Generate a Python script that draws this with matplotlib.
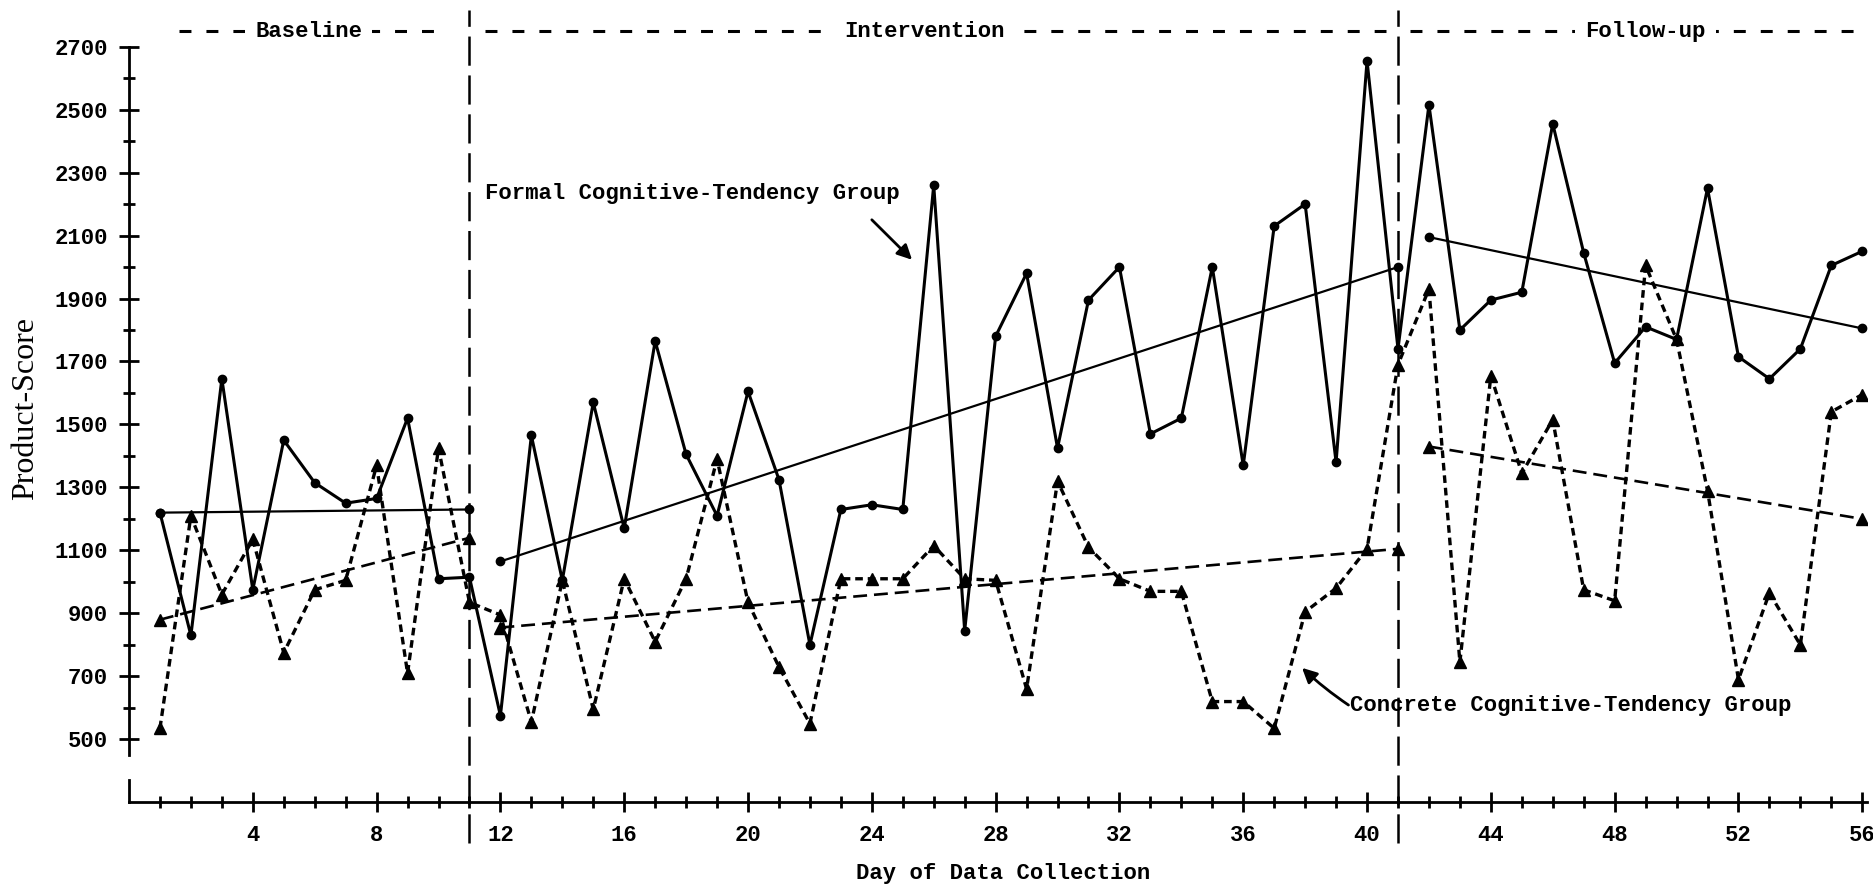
import numpy as np
import matplotlib.pyplot as plt

plt.rcParams['lines.scale_dashes'] = False
plt.rcParams['font.family'] = ['Liberation Mono', 'DejaVu Sans Mono']
plt.rcParams['font.weight'] = 'bold'
plt.rcParams['axes.labelweight'] = 'bold'
plt.rcParams['font.size'] = 16

# day of data collection
days = np.arange(1, 57)

# Product-Score, formal cognitive-tendency group (solid line, dots)
formal = [1220, 830, 1645, 975, 1450, 1315, 1250, 1265, 1520, 1010, 1015,
          575, 1465, 1005, 1570, 1170, 1765, 1405, 1210, 1605, 1325, 800,
          1230, 1245, 1230, 2260, 845, 1780, 1980, 1425, 1895, 2000, 1470,
          1520, 2000, 1370, 2130, 2200, 1380, 2655, 1740,
          2515, 1800, 1895, 1920, 2455, 2045, 1695, 1810, 1770, 2250, 1715,
          1645, 1740, 2005, 2050]

# Product-Score, concrete cognitive-tendency group (dashed line, triangles)
concrete = [535, 1210, 960, 1135, 775, 975, 1005, 1370, 710, 1425, 935,
            895, 555, 1005, 595, 1010, 810, 1010, 1390, 935, 730, 550,
            1010, 1010, 1010, 1115, 1010, 1005, 660, 1320, 1110, 1010, 970,
            970, 620, 620, 535, 905, 980, 1105, 1690,
            1930, 745, 1655, 1345, 1515, 975, 940, 2005, 1770, 1290, 690,
            965, 800, 1540, 1595]

# phases
phase_names = ['Baseline', 'Intervention', 'Follow-up']
phase_breaks = [11, 41]
phase_label_x = [5.8, 25.7, 49.0]
phase_span_start = [1.6, 11.5, 41.4]
phase_span_end = [10.1, 40.6, 56.1]

# trend lines per phase (first day, last day) and (start, end) values
trend_days = [(1, 11), (12, 41), (42, 56)]
formal_trend = [(1220, 1230), (1065, 2000), (2095, 1805)]
concrete_trend = [(880, 1140), (855, 1105), (1430, 1200)]

ymin, ymax = 302, 2848
fig = plt.figure(figsize=(18.73, 8.94), dpi=100)
ax = fig.add_axes([129 / 1873, 1 - 801.7 / 894, 1737.9 / 1873, 801.7 / 894])
ax.set_xlim(0, 56.15)
ax.set_ylim(ymin, ymax)

# data series
ax.plot(days, formal, color='black', lw=2.2, marker='o', ms=6)
ax.plot(days, concrete, color='black', lw=2.4, ls=(0, (5.5, 3.5)),
        marker='^', ms=8.5)

# trend lines
for (d0, d1), (f0, f1), (c0, c1) in zip(trend_days, formal_trend, concrete_trend):
    ax.plot([d0, d1], [f0, f1], color='black', lw=1.6, marker='o', ms=6)
    ax.plot([d0, d1], [c0, c1], color='black', lw=1.9, ls=(0, (10, 5)),
            marker='^', ms=8.5)

# phase separators
for b in phase_breaks:
    ax.axvline(b, ymin=(170 - ymin) / (ymax - ymin), ymax=(2817 - ymin) / (ymax - ymin),
               color='black', lw=1.8, ls=(0, (21, 7)), clip_on=False)

# phase labels on top
ytop = 2748
for name, xs, x0, x1 in zip(phase_names, phase_label_x, phase_span_start, phase_span_end):
    ax.plot([x0, x1], [ytop, ytop], color='black', lw=2.2, ls=(0, (8.6, 10.8)))
    ax.text(xs, ytop, name, ha='center', va='center',
            bbox=dict(boxstyle='square,pad=0.45', fc='white', ec='none'))

# group labels with arrows
ax.text(11.5, 2232, 'Formal Cognitive-Tendency Group', ha='left', va='center')
ax.annotate('', xy=(25.3, 2023), xytext=(24.0, 2150),
            arrowprops=dict(arrowstyle='-|>', color='black', lw=2,
                            mutation_scale=22, shrinkA=0, shrinkB=0))
ax.text(39.45, 609, 'Concrete Cognitive-Tendency Group', ha='left', va='center')
ax.annotate('', xy=(37.9, 727), xytext=(39.4, 609),
            arrowprops=dict(arrowstyle='-|>', color='black', lw=2,
                            mutation_scale=22, shrinkA=0, shrinkB=0,
                            connectionstyle='arc3,rad=-0.04'))

# axes
for s in ['top', 'right']:
    ax.spines[s].set_visible(False)
ax.spines['left'].set_bounds(450, 2700)
ax.spines['left'].set_linewidth(2)
ax.spines['bottom'].set_linewidth(2)
ax.axvline(0, ymin=0, ymax=(370 - ymin) / (ymax - ymin), color='black', lw=2,
           clip_on=False)

ax.set_xticks(range(4, 57, 4))
ax.set_xticks(range(1, 57), minor=True)
ax.set_yticks(range(500, 2701, 200))
ax.set_yticks(range(600, 2601, 200), minor=True)
ax.tick_params(axis='both', which='major', direction='inout', length=14, width=2)
ax.tick_params(axis='both', which='minor', direction='inout', length=9, width=2)
ax.tick_params(axis='x', pad=10)
ax.tick_params(axis='y', pad=8)

ax.set_xlabel('Day of Data Collection', weight='bold')
ax.xaxis.set_label_coords(0.503, -0.077)
ax.set_ylabel('Product-Score', family=['Liberation Serif'], weight='normal',
              fontsize=23)
ax.yaxis.set_label_coords(-0.051, 0.49)

fig.savefig('out.png', dpi=100)
